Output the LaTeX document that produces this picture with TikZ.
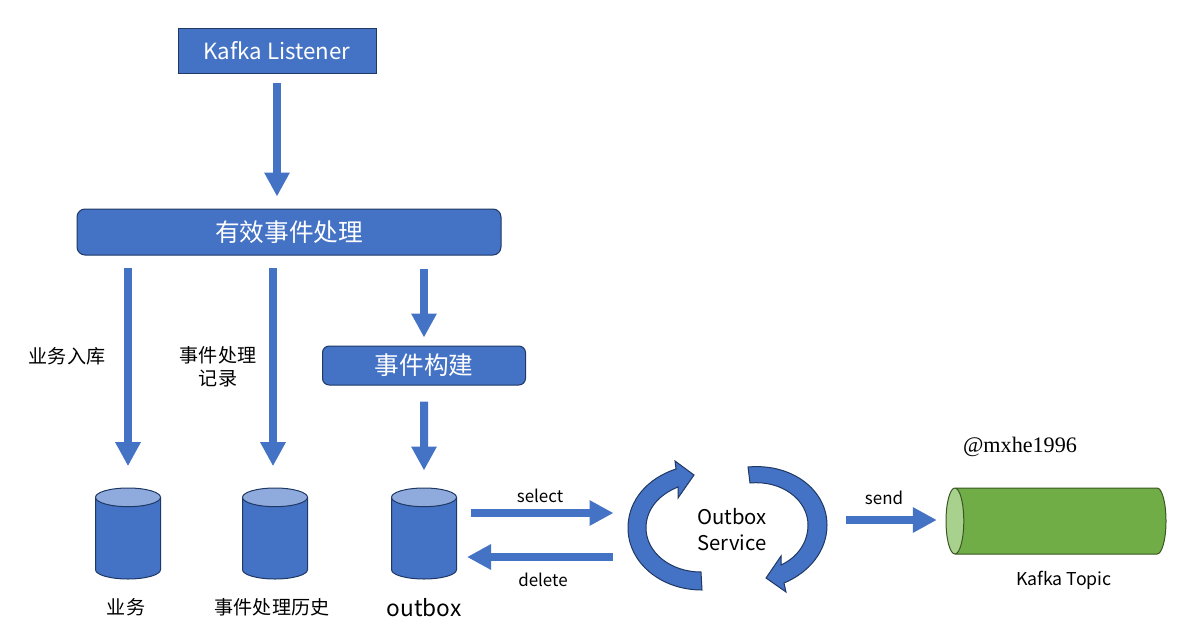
\documentclass[tikz,border=0pt]{standalone}
\usepackage{fontspec}
\setmainfont{Noto Sans CJK SC}
\newfontfamily\timesfont{Liberation Serif}
\usepackage{xcolor}
\usetikzlibrary{arrows.meta}
\usetikzlibrary{positioning, shapes.geometric}
\definecolor{blockblue}{HTML}{4472C4}
\definecolor{blockedge}{HTML}{1F3864}
\definecolor{capblue}{HTML}{8FAADC}
\definecolor{topicgreen}{HTML}{70AD47}
\definecolor{topicedge}{HTML}{385723}
\definecolor{capgreen}{HTML}{A9D18E}

\begin{document}
\begin{tikzpicture} [
	x=0.75pt, y=-0.75pt, % one unit is one pixel of the reference
	->,
	>={Triangle[length=18pt, width=18pt]},
	flow/.style={draw=blockblue, line width=6pt},
	block/.style={draw=blockedge, line width=0.75pt, fill=blockblue, text=white, inner sep=0pt},
	store/.style={cylinder, anchor=shape center, shape border rotate=90, shape aspect=2.1, draw=blockedge, line width=0.75pt, cylinder uses custom fill, cylinder body fill=blockblue, cylinder end fill=capblue, minimum width=48.75pt, minimum height=68.25pt},
	caption/.style={font=\fontsize{14.3}{17}\selectfont, inner sep=0pt, align=center},
	small/.style={font=\fontsize{12.7}{15}\selectfont, inner sep=0pt},
	turn/.style={draw=blockedge, line width=0.75pt, fill=blockblue, -},
	]
	\useasboundingbox (0,0) rectangle (1177,639);

	% boxes
	\node[block, minimum width=148.5pt, minimum height=33.75pt, font=\fontsize{16.7}{20}\selectfont] (listener) at (277,50.5) {Kafka Listener};
	\node[block, rounded corners=6pt, minimum width=318pt, minimum height=34.5pt, font=\fontsize{18.5}{22}\selectfont] (valid) at (289,232) {有效事件处理};
	\node[block, rounded corners=5pt, minimum width=152.25pt, minimum height=29.25pt, font=\fontsize{18.5}{22}\selectfont] (build) at (424,365.5) {事件构建};

	% stores
	\node[store] (bizdb) at (128,533.5) {};
	\node[store] (historydb) at (275,533.5) {};
	\node[store] (outboxdb) at (424,533.5) {};
	\node[cylinder, anchor=shape center, shape border rotate=180, shape aspect=2, draw=topicedge, line width=0.75pt, cylinder uses custom fill, cylinder body fill=topicgreen, cylinder end fill=capgreen, minimum width=49.5pt, minimum height=165pt] (topic) at (1056,521) {};

	% labels
	\node[caption] (bizlabel) at (67,356) {业务入库};
	\node[caption] (recordlabel) at (218,367) {事件处理\\记录};
	\node[caption] (bizname) at (126,607) {业务};
	\node[caption] (historyname) at (272,607) {事件处理历史};
	\node[inner sep=0pt, font=\fontsize{17}{20}\selectfont] (outboxname) at (424,608) {outbox};
	\node[small] (selectlabel) at (540,496) {select};
	\node[small] (deletelabel) at (543,580) {delete};
	\node[small] (sendlabel) at (884,498) {send};
	\node[inner sep=0pt, font=\fontsize{13.3}{16}\selectfont] (topicname) at (1064,580) {Kafka Topic};
	\node[inner sep=0pt, align=left, font=\fontsize{15.2}{19.5}\selectfont, anchor=west] (service) at (697,530) {Outbox\\Service};
	\node[inner sep=0pt, font=\timesfont\fontsize{16.6}{20}\selectfont] (credit) at (1020,447) {@mxhe1996};

	% free ends on the service side
	\coordinate (selectend) at (613.5,513);
	\coordinate (deleteend) at (613,557);
	\coordinate (sendstart) at (846,520);

	% block arrows
	\draw[flow, shorten <=6.75pt, shorten >=9pt] (listener.south) -- (listener.south |- valid.north);
	\draw[flow, shorten <=9pt, shorten >=16pt] (bizdb.north |- valid.south) -- (bizdb.north);
	\draw[flow, shorten <=9pt, shorten >=16pt] ([xshift=-1.5pt]historydb.north |- valid.south) -- ([xshift=-1.5pt]historydb.north);
	\draw[flow, shorten <=9.75pt, shorten >=6pt] (build.north |- valid.south) -- (build.north);
	\draw[flow, shorten <=12pt, shorten >=12.75pt] (build.south) -- (outboxdb.north);
	\draw[flow, shorten <=10.5pt] (outboxdb.east |- selectend) -- (selectend);
	\draw[flow, shorten >=7.5pt] (deleteend) -- (outboxdb.east |- deleteend);
	\draw[flow, shorten >=6.5pt] (sendstart) -- (topic.west |- sendstart);

	% the two turning arrows round the service
	\draw[turn] (702,590) .. controls (660,590) and (628,562) .. (628,528)
		.. controls (628,500) and (648,478) .. (676,469)
		-- (675,461) -- (694,475) -- (678,498) -- (678,487)
		.. controls (658,495) and (646,510) .. (646,528)
		.. controls (646,552) and (670,572) .. (701,572) -- cycle;
	\draw[turn] (748,467) .. controls (792,463) and (827,490) .. (827,525)
		.. controls (827,552) and (808,573) .. (784,583)
		-- (786,592) -- (766,578) -- (781,556) -- (781,565)
		.. controls (798,557) and (808,542) .. (808,525)
		.. controls (808,500) and (782,480) .. (750,483) -- cycle;
\end{tikzpicture}
\end{document}
